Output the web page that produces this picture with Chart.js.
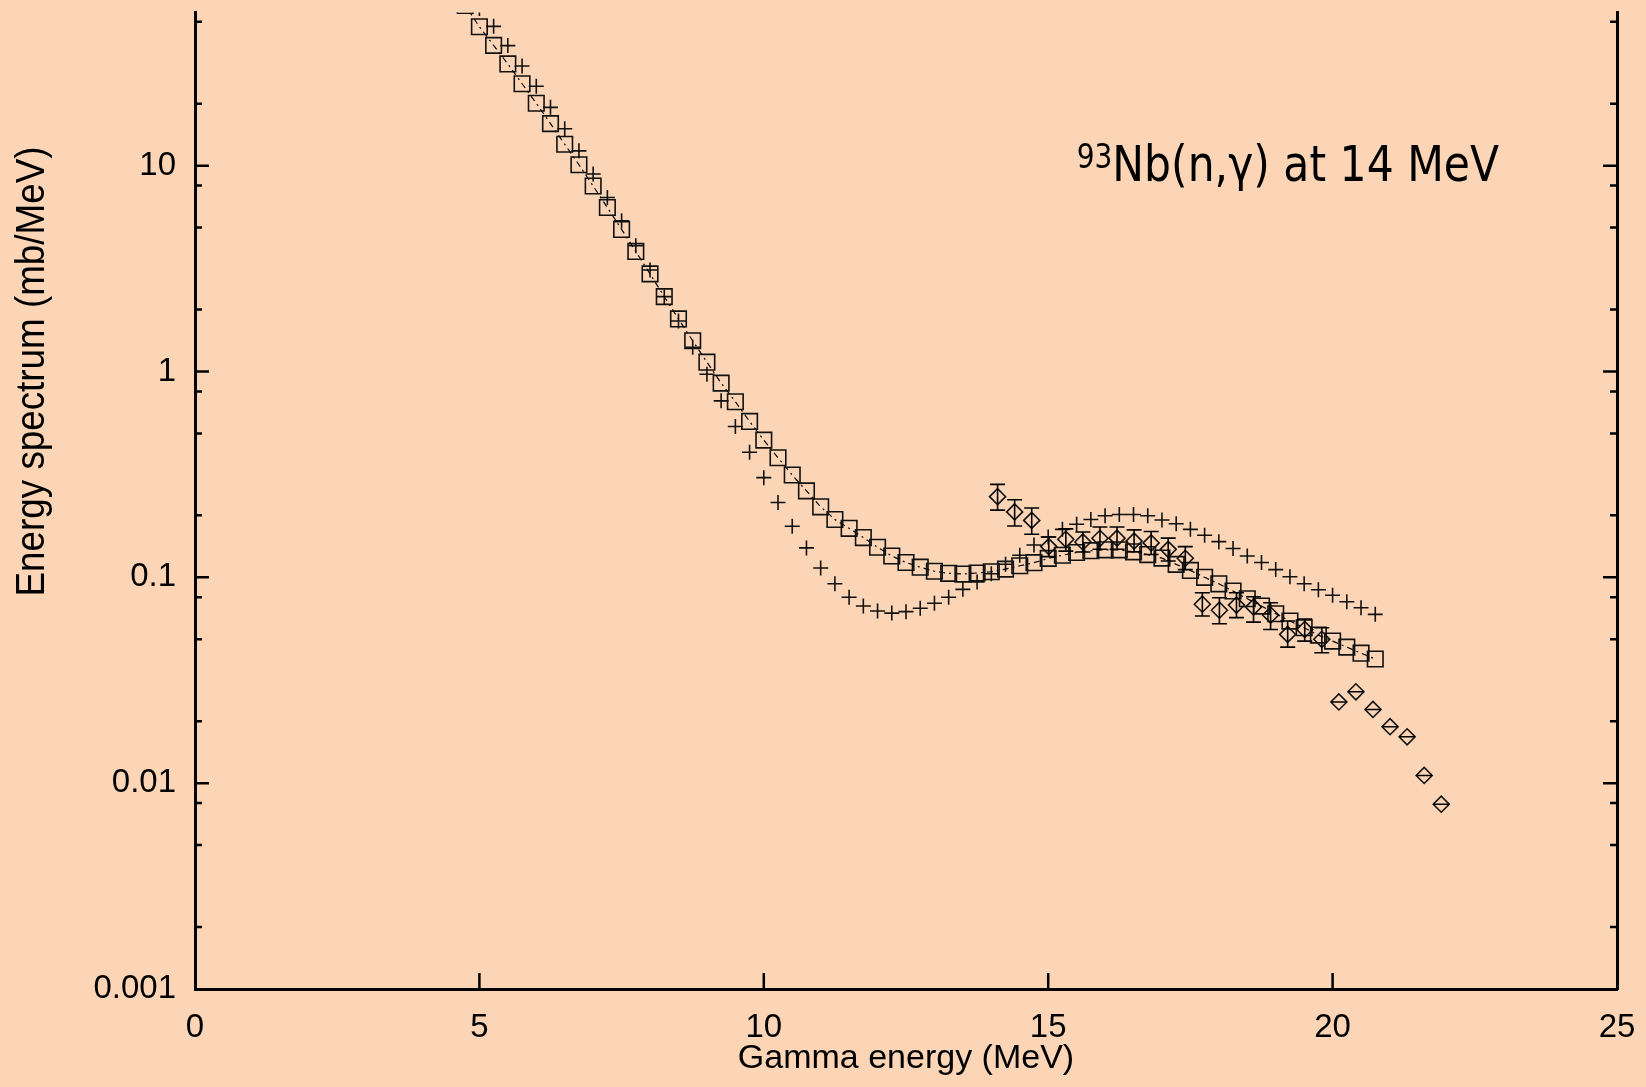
<!DOCTYPE html>
<html>
<head>
<meta charset="utf-8">
<script src="https://cdn.jsdelivr.net/npm/chart.js@4.4.1/dist/chart.umd.min.js"></script>
<style>
    html, body { margin: 0; padding: 0; background: #fbd5b5; }
    #wrap { width: 1646px; height: 1087px; position: relative; }
</style>
</head>
<body>
<div id="wrap"><canvas id="spectrumChart"></canvas></div>
<script>
    // calculation, squares joined by dash-dot line
    var calcEnergy = [4.75, 5, 5.25, 5.5, 5.75, 6, 6.25, 6.5, 6.75, 7, 7.25, 7.5, 7.75, 8, 8.25, 8.5, 8.75, 9, 9.25, 9.5, 9.75,
        10, 10.25, 10.5, 10.75, 11, 11.25, 11.5, 11.75, 12, 12.25, 12.5, 12.75, 13, 13.25, 13.5, 13.75, 14, 14.25, 14.5, 14.75,
        15, 15.25, 15.5, 15.75, 16, 16.25, 16.5, 16.75, 17, 17.25, 17.5, 17.75, 18, 18.25, 18.5, 18.75, 19, 19.25, 19.5, 19.75,
        20, 20.25, 20.5, 20.75];
    var calcSpectrum = [60, 47.3, 38.4, 31.2, 25.0, 20.1, 16.0, 12.7, 10.1, 7.96, 6.26, 4.90, 3.83, 2.98, 2.31, 1.80, 1.41, 1.11, 0.878, 0.713, 0.572,
        0.464, 0.381, 0.314, 0.263, 0.220, 0.191, 0.173, 0.156, 0.140, 0.127, 0.118, 0.112, 0.107, 0.1046, 0.1037, 0.105, 0.1064, 0.1096, 0.1138, 0.1178,
        0.1236, 0.128, 0.132, 0.1347, 0.136, 0.136, 0.133, 0.129, 0.124, 0.1156, 0.108, 0.100, 0.093, 0.0858, 0.0787, 0.0725, 0.0665, 0.0613, 0.0569, 0.0524,
        0.049, 0.0458, 0.0428, 0.0401];

    // second calculation, crosses
    var calc2Energy = [5, 5.25, 5.5, 5.75, 6, 6.25, 6.5, 6.75, 7, 7.25, 7.5, 7.75, 8, 8.25, 8.5, 8.75, 9, 9.25, 9.5, 9.75,
        10, 10.25, 10.5, 10.75, 11, 11.25, 11.5, 11.75, 12, 12.25, 12.5, 12.75, 13, 13.25, 13.5, 13.75, 14, 14.25, 14.5, 14.75,
        15, 15.25, 15.5, 15.75, 16, 16.25, 16.5, 16.75, 17, 17.25, 17.5, 17.75, 18, 18.25, 18.5, 18.75, 19, 19.25, 19.5, 19.75,
        20, 20.25, 20.5, 20.75];
    var calc2Spectrum = [58, 47.5, 38.3, 30.5, 24.3, 19.2, 15.1, 11.8, 9.1, 7.0, 5.40, 4.08, 3.11, 2.31, 1.76, 1.31, 0.97, 0.72, 0.54, 0.405,
        0.305, 0.231, 0.177, 0.139, 0.111, 0.093, 0.080, 0.0725, 0.0686, 0.0670, 0.0681, 0.0707, 0.0748, 0.080, 0.0874, 0.095, 0.104, 0.1157, 0.128, 0.1436,
        0.157, 0.171, 0.181, 0.191, 0.199, 0.202, 0.202, 0.199, 0.190, 0.182, 0.171, 0.160, 0.149, 0.138, 0.127, 0.118, 0.109, 0.1007, 0.093, 0.087,
        0.0818, 0.0761, 0.0712, 0.0661];

    // experiment, diamonds with error bars
    var expEnergy = [14.11, 14.41, 14.71, 15.01, 15.31, 15.61, 15.91, 16.21, 16.51, 16.81, 17.11, 17.41, 17.71, 18.01,
        18.31, 18.61, 18.91, 19.21, 19.51, 19.81, 20.11, 20.41, 20.71, 21.01, 21.31, 21.61, 21.91];
    var expSpectrum = [0.2466, 0.2078, 0.189, 0.141, 0.153, 0.1485, 0.1548, 0.155, 0.150, 0.147, 0.1368, 0.1237, 0.074, 0.0692,
        0.0733, 0.0717, 0.0656, 0.0528, 0.0558, 0.050, 0.0248, 0.0278, 0.0228, 0.0188, 0.0168, 0.0109, 0.0079];
    var expLow = [0.212, 0.1776, 0.162, 0.126, 0.134, 0.1328, 0.1368, 0.137, 0.133, 0.129, 0.120, 0.109, 0.0649, 0.0595,
        0.0637, 0.0606, 0.0558, 0.0458, 0.049, 0.043, 0.0248, 0.0278, 0.0228, 0.0188, 0.0168, 0.0109, 0.0079];
    var expHigh = [0.283, 0.238, 0.217, 0.157, 0.172, 0.166, 0.1756, 0.1756, 0.170, 0.167, 0.155, 0.141, 0.0842, 0.0796,
        0.0842, 0.0805, 0.0752, 0.0613, 0.0627, 0.0569, 0.0248, 0.0278, 0.0228, 0.0188, 0.0168, 0.0109, 0.0079];

    var xTicks = [0, 5, 10, 15, 20, 25];
    var yTicks = [0.001, 0.01, 0.1, 1, 10];
    var yMinorFactors = [2, 5, 8];

    var xTitle = 'Gamma energy (MeV)';
    var yTitle = 'Energy spectrum (mb/MeV)';
    var noteMass = '93';
    var noteText = 'Nb(n,\u03b3) at 14 MeV';

    function toPoints(xs, ys) {
        return xs.map(function (x, i) { return { x: x, y: ys[i] }; });
    }

    var axisFont = { family: "'Liberation Sans', Arial, sans-serif", size: 33 };

    // ticks point inwards on every side
    var inwardTicks = {
        id: 'inwardTicks',
        afterDraw: function (chart) {
            var ctx = chart.ctx, area = chart.chartArea;
            var xs = chart.scales.x, ys = chart.scales.y;
            ctx.save();
            ctx.strokeStyle = '#000';
            ctx.lineWidth = 2.5;
            ctx.beginPath();
            xTicks.forEach(function (v) {
                if (v <= xs.min || v >= xs.max) return;
                var px = xs.getPixelForValue(v);
                ctx.moveTo(px, area.bottom);
                ctx.lineTo(px, area.bottom - 16);
            });
            yTicks.forEach(function (v) {
                var py = ys.getPixelForValue(v);
                if (v > ys.min) {
                    ctx.moveTo(area.left, py); ctx.lineTo(area.left + 14, py);
                    ctx.moveTo(area.right, py); ctx.lineTo(area.right - 14, py);
                }
                yMinorFactors.forEach(function (f) {
                    if (v * f >= ys.max) return;
                    var pm = ys.getPixelForValue(v * f);
                    ctx.moveTo(area.left, pm); ctx.lineTo(area.left + 7, pm);
                    ctx.moveTo(area.right, pm); ctx.lineTo(area.right - 7, pm);
                });
            });
            ctx.stroke();
            ctx.restore();
        }
    };

    var errorBars = {
        id: 'errorBars',
        afterDatasetsDraw: function (chart) {
            var ctx = chart.ctx, xs = chart.scales.x, ys = chart.scales.y;
            ctx.save();
            ctx.strokeStyle = '#000';
            ctx.lineWidth = 1.6;
            ctx.beginPath();
            expEnergy.forEach(function (e, i) {
                var px = xs.getPixelForValue(e);
                var lo = ys.getPixelForValue(expLow[i]);
                var hi = ys.getPixelForValue(expHigh[i]);
                ctx.moveTo(px, lo); ctx.lineTo(px, hi);
                ctx.moveTo(px - 7.5, lo); ctx.lineTo(px + 7.5, lo);
                ctx.moveTo(px - 7.5, hi); ctx.lineTo(px + 7.5, hi);
            });
            ctx.stroke();
            ctx.restore();
        }
    };

    var textLabels = {
        id: 'textLabels',
        afterDraw: function (chart) {
            var ctx = chart.ctx, xs = chart.scales.x, ys = chart.scales.y;
            ctx.save();
            ctx.fillStyle = '#000';
            ctx.translate(33, ys.getPixelForValue(1));
            ctx.rotate(-Math.PI / 2);
            ctx.scale(0.92, 1);
            ctx.font = "40px 'Liberation Sans', Arial, sans-serif";
            ctx.textAlign = 'center';
            ctx.textBaseline = 'middle';
            ctx.fillText(yTitle, 0, 0);
            ctx.restore();

            ctx.save();
            ctx.fillStyle = '#000';
            ctx.translate(xs.getPixelForValue(15.5), ys.getPixelForValue(10) + 15);
            ctx.scale(0.85, 1);
            ctx.textAlign = 'left';
            ctx.textBaseline = 'alphabetic';
            ctx.font = "33px 'DejaVu Sans', sans-serif";
            ctx.fillText(noteMass, 0, -13);
            var w = ctx.measureText(noteMass).width;
            ctx.font = "50px 'DejaVu Sans', sans-serif";
            ctx.fillText(noteText, w, 0);
            ctx.restore();
        }
    };

    var spectrumCtx = document.getElementById('spectrumChart').getContext('2d');
    var spectrumChart = new Chart(spectrumCtx, {
        type: 'scatter',
        data: {
            datasets: [{
                label: 'calculation',
                data: toPoints(calcEnergy, calcSpectrum),
                showLine: true,
                borderColor: '#000',
                borderWidth: 1.2,
                borderDash: [6, 4, 2, 4],
                pointStyle: 'rect',
                pointRadius: 11,
                pointBorderWidth: 1.6,
                pointBorderColor: '#111',
                pointBackgroundColor: 'rgba(0,0,0,0)',
                clip: 0
            }, {
                label: 'calculation 2',
                data: toPoints(calc2Energy, calc2Spectrum),
                showLine: false,
                pointStyle: 'cross',
                pointRadius: 7.5,
                pointBorderWidth: 1.6,
                pointBorderColor: '#111',
                pointBackgroundColor: 'rgba(0,0,0,0)',
                clip: 0
            }, {
                label: 'experiment',
                data: toPoints(expEnergy, expSpectrum),
                showLine: false,
                pointStyle: 'rectRot',
                pointRadius: 8,
                pointBorderWidth: 1.6,
                pointBorderColor: '#111',
                pointBackgroundColor: 'rgba(0,0,0,0)',
                clip: 0
            }]
        },
        options: {
            responsive: true,
            maintainAspectRatio: false,
            animation: false,
            events: [],
            layout: { padding: { left: 0, right: 29, top: 12, bottom: 0 } },
            plugins: {
                legend: { display: false },
                tooltip: { enabled: false }
            },
            scales: {
                x: {
                    type: 'linear',
                    min: 0,
                    max: 25,
                    afterBuildTicks: function (scale) {
                        scale.ticks = xTicks.map(function (v) { return { value: v }; });
                    },
                    ticks: { font: axisFont, color: '#000', padding: 19, maxRotation: 0 },
                    grid: { display: false, drawTicks: false },
                    border: { display: true, color: '#000', width: 3 },
                    title: { display: true, text: xTitle, font: { family: axisFont.family, size: 34 }, color: '#000', padding: { top: 0, bottom: 8 } },
                    afterFit: function (scale) {
                        scale.height = 98;
                        scale.paddingLeft = 0;
                        scale.paddingRight = 0;
                    }
                },
                y: {
                    type: 'logarithmic',
                    min: 0.001,
                    max: 55.4,
                    afterBuildTicks: function (scale) {
                        scale.ticks = yTicks.map(function (v) { return { value: v }; });
                    },
                    ticks: {
                        font: axisFont, color: '#000', padding: 19,
                        callback: function (v) { return String(v); }
                    },
                    grid: { display: false, drawTicks: false },
                    border: { display: true, color: '#000', width: 3 },
                    afterFit: function (scale) {
                        scale.width = 195;
                        scale.paddingTop = 0;
                        scale.paddingBottom = 0;
                    }
                },
                y2: {
                    type: 'logarithmic',
                    position: 'right',
                    min: 0.001,
                    max: 55.4,
                    ticks: { display: false },
                    grid: { display: false, drawTicks: false },
                    border: { display: true, color: '#000', width: 3 },
                    afterFit: function (scale) {
                        scale.width = 0;
                        scale.paddingTop = 0;
                        scale.paddingBottom = 0;
                    }
                }
            }
        },
        plugins: [errorBars, inwardTicks, textLabels]
    });
</script>
</body>
</html>
